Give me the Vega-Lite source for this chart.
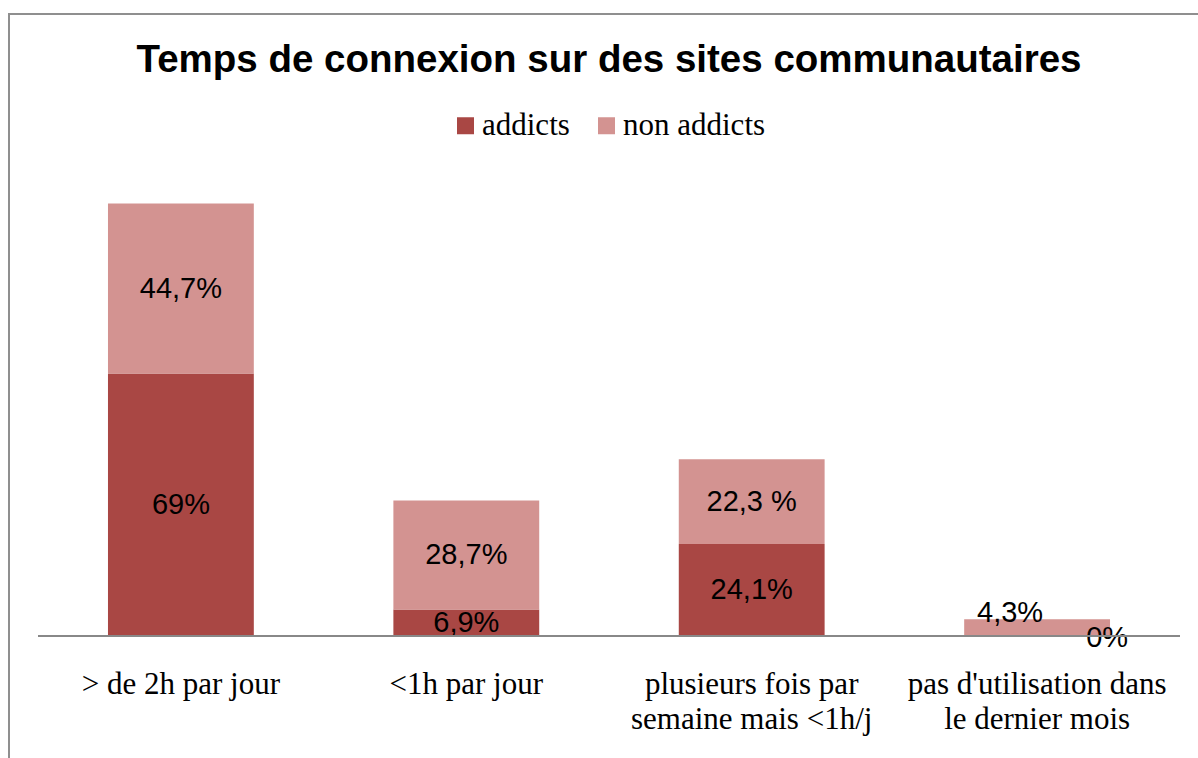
{
  "$schema": "https://vega.github.io/schema/vega-lite/v6.json",
  "width": 1200,
  "height": 760,
  "autosize": {"type": "none"},
  "padding": {"left": 9, "top": 14, "right": 0, "bottom": 0},
  "background": "white",
  "config": {"view": {"stroke": "#8f8f8f", "strokeWidth": 2}},
  "title": {
    "text": "Temps de connexion sur des sites communautaires",
    "font": "Liberation Sans",
    "fontSize": 38.5,
    "fontWeight": "bold",
    "color": "black",
    "anchor": "middle",
    "baseline": "alphabetic",
    "offset": -57,
    "dy": 39
  },
  "data": {
    "values": [
      {"cat": "> de 2h par jour", "group": "addicts", "value": 69, "label": "69%"},
      {"cat": "> de 2h par jour", "group": "non addicts", "value": 44.7, "label": "44,7%"},
      {"cat": "<1h par jour", "group": "addicts", "value": 6.9, "label": "6,9%"},
      {"cat": "<1h par jour", "group": "non addicts", "value": 28.7, "label": "28,7%"},
      {"cat": "plusieurs fois par semaine mais <1h/j", "group": "addicts", "value": 24.1, "label": "24,1%"},
      {"cat": "plusieurs fois par semaine mais <1h/j", "group": "non addicts", "value": 22.3, "label": "22,3 %"},
      {"cat": "pas d'utilisation dans le dernier mois", "group": "addicts", "value": 0, "label": "0%"},
      {"cat": "pas d'utilisation dans le dernier mois", "group": "non addicts", "value": 4.3, "label": "4,3%"}
    ]
  },
  "transform": [
    {"stack": "value", "groupby": ["cat"], "sort": [{"field": "group", "order": "ascending"}], "as": ["y0", "y1"]},
    {"calculate": "(datum.y0 + datum.y1) / 2", "as": "mid"}
  ],
  "layer": [
    {
      "encoding": {
        "x": {
          "field": "cat",
          "type": "nominal",
          "sort": null,
          "scale": {"paddingInner": 0.489, "paddingOuter": 0.3468},
          "axis": {
            "orient": "bottom",
            "offset": -138.3,
            "domain": false,
            "ticks": false,
            "title": null,
            "labelAngle": 0,
            "labelFont": "Liberation Serif",
            "labelFontSize": 31,
            "labelColor": "black",
            "labelPadding": 58,
            "labelBaseline": "alphabetic",
            "labelLineHeight": 35,
            "labelLimit": 500,
            "labelExpr": "datum.label == 'plusieurs fois par semaine mais <1h/j' ? ['plusieurs fois par', 'semaine mais <1h/j'] : indexof(datum.label, 'utilisation') >= 0 ? [\"pas d'utilisation dans\", 'le dernier mois'] : datum.label"
          }
        }
      },
      "layer": [
        {
          "mark": {"type": "bar"},
          "encoding": {
            "y": {
              "field": "y0",
              "type": "quantitative",
              "scale": {"domain": [-36.4, 163.6], "nice": false, "zero": false},
              "axis": null
            },
            "y2": {"field": "y1"},
            "color": {
              "field": "group",
              "type": "nominal",
              "scale": {"domain": ["addicts", "non addicts"], "range": ["#A94744", "#D39391"]},
              "legend": {
                "orient": "none",
                "legendX": 441,
                "legendY": 96,
                "direction": "horizontal",
                "title": null,
                "symbolType": "square",
                "symbolSize": 289,
                "symbolStrokeWidth": 0,
                "labelFont": "Liberation Serif",
                "labelFontSize": 31,
                "labelColor": "black",
                "columnPadding": 21,
                "labelOffset": 1
              }
            }
          }
        },
        {
          "transform": [{"filter": {"not": {"field": "cat", "equal": "pas d'utilisation dans le dernier mois"}}}],
          "mark": {"type": "text", "font": "Liberation Sans", "fontSize": 29, "color": "black", "baseline": "middle"},
          "encoding": {
            "y": {"field": "mid", "type": "quantitative"},
            "text": {"field": "label"}
          }
        },
        {
          "transform": [{"filter": {"and": [{"field": "cat", "equal": "pas d'utilisation dans le dernier mois"}, {"field": "group", "equal": "non addicts"}]}}],
          "mark": {"type": "text", "font": "Liberation Sans", "fontSize": 29, "color": "black", "baseline": "middle", "dx": -27, "dy": -15},
          "encoding": {
            "y": {"field": "mid", "type": "quantitative"},
            "text": {"field": "label"}
          }
        },
        {
          "transform": [{"filter": {"and": [{"field": "cat", "equal": "pas d'utilisation dans le dernier mois"}, {"field": "group", "equal": "addicts"}]}}],
          "mark": {"type": "text", "font": "Liberation Sans", "fontSize": 29, "color": "black", "baseline": "middle", "dx": 70, "dy": 2},
          "encoding": {
            "y": {"field": "mid", "type": "quantitative"},
            "text": {"field": "label"}
          }
        }
      ]
    },
    {
      "mark": {"type": "rule", "color": "#888888", "strokeWidth": 1.5},
      "encoding": {
        "x": {"datum": 0, "type": "quantitative", "scale": {"domain": [-0.025394, 1.025394], "nice": false, "zero": false}, "axis": null},
        "x2": {"datum": 1},
        "y": {"datum": 0, "type": "quantitative"}
      }
    }
  ],
  "resolve": {"scale": {"x": "independent"}}
}
